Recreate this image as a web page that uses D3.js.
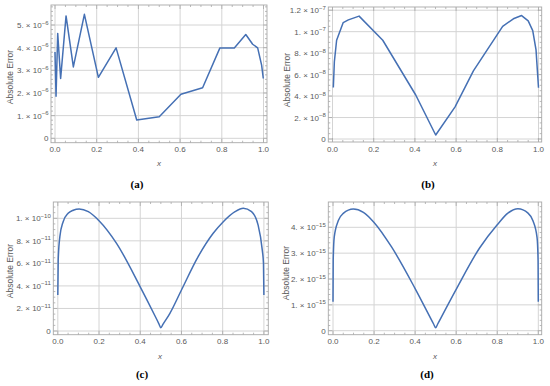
<!DOCTYPE html>
<html>
<head>
<meta charset="utf-8">
<script src="https://cdn.jsdelivr.net/npm/d3@7/dist/d3.min.js"></script>
<style>
  body { margin: 0; background: #ffffff; }
  svg { display: block; }
</style>
</head>
<body>
<svg id="chart" width="550" height="386"></svg>
<script>
// values
var xA = [0, 0.005, 0.013, 0.027, 0.053, 0.088, 0.141, 0.208, 0.293, 0.392, 0.50,
  0.604, 0.708, 0.791, 0.86, 0.915, 0.948, 0.972, 0.991, 0.999];
var errA = [3.81e-6, 1.86e-6, 4.63e-6, 2.64e-6, 5.40e-6, 3.15e-6, 5.47e-6, 2.69e-6, 3.99e-6, 0.81e-6, 0.95e-6,
  1.94e-6, 2.23e-6, 3.99e-6, 3.99e-6, 4.58e-6, 4.15e-6, 3.99e-6, 3.23e-6, 2.64e-6];

var xB = [0.004, 0.009, 0.02, 0.052, 0.077, 0.129, 0.244, 0.404, 0.501, 0.595, 0.684,
  0.826, 0.878, 0.918, 0.95, 0.972, 0.988, 1.0];
var errB = [4.8e-8, 7.2e-8, 9.2e-8, 10.85e-8, 11.1e-8, 11.45e-8, 9.2e-8, 4.1e-8, 0.37e-8, 3.0e-8, 6.35e-8,
  10.5e-8, 11.2e-8, 11.5e-8, 11.0e-8, 10.1e-8, 8.3e-8, 4.77e-8];

var xC = [0, 0.002, 0.01, 0.026, 0.05, 0.075, 0.104, 0.148, 0.2, 0.285, 0.398, 0.47, 0.49, 0.5,
  0.51, 0.544, 0.6, 0.681, 0.754, 0.803, 0.86, 0.9, 0.94, 0.972, 0.992, 0.998, 1.0];
var errC = [3.19e-11, 6.3e-11, 8.37e-11, 9.7e-11, 10.44e-11, 10.72e-11, 10.83e-11, 10.59e-11, 9.79e-11, 7.78e-11,
  3.99e-11, 1.4e-11, 0.66e-11, 0.29e-11, 0.58e-11, 1.57e-11, 3.64e-11, 6.6e-11, 8.67e-11, 9.7e-11, 10.59e-11,
  10.89e-11, 10.59e-11, 9.4e-11, 7.2e-11, 6.0e-11, 3.19e-11];

var xD = [0, 0.001, 0.006, 0.026, 0.05, 0.099, 0.148, 0.2, 0.286, 0.4, 0.49, 0.5, 0.51,
  0.6, 0.714, 0.8, 0.852, 0.901, 0.95, 0.974, 0.994, 0.999, 1.0];
var errD = [1.12e-15, 2.72e-15, 3.62e-15, 4.26e-15, 4.54e-15, 4.71e-15, 4.58e-15, 4.19e-15, 3.23e-15, 1.63e-15,
  0.26e-15, 0.11e-15, 0.26e-15, 1.6e-15, 3.2e-15, 4.1e-15, 4.55e-15, 4.72e-15, 4.55e-15, 4.25e-15,
  3.6e-15, 2.7e-15, 1.12e-15];

var xTicks = [0, 0.2, 0.4, 0.6, 0.8, 1.0];
var yTicksA = [0, 1e-6, 2e-6, 3e-6, 4e-6, 5e-6];
var yTicksB = [0, 2e-8, 4e-8, 6e-8, 8e-8, 1e-7, 1.2e-7];
var yTicksC = [0, 2e-11, 4e-11, 6e-11, 8e-11, 1e-10];
var yTicksD = [0, 1e-15, 2e-15, 3e-15, 4e-15];
var captions = ['(a)', '(b)', '(c)', '(d)'];

var svg = d3.select('#chart');
var lineColor = '#4570b4';
var frameColor = '#a8a8a8';
var gridColor = '#d4d4d4';
var labelColor = '#5a5a5a';

var panels = [
  { xs: xA, ys: errA, yTicks: yTicksA, yMinor: 0.2e-6, linear: true,
    frame: [51, 5, 267, 142.7], xPx: [55, 263.5], yPx: [138.3, 25.0], yDom: [0, 5e-6],
    cap: [137, 188], xLab: [159, 166], yLab: [10, 77] },
  { xs: xB, ys: errB, yTicks: yTicksB, yMinor: 0.5e-8, linear: true,
    frame: [328.3, 7, 541.7, 142], xPx: [332.5, 538.5], yPx: [139, 10.2], yDom: [0, 1.2e-7],
    cap: [428, 188], xLab: [435, 166], yLab: [287, 80] },
  { xs: xC, ys: errC, yTicks: yTicksC, yMinor: 0.5e-11, linear: false,
    frame: [53.3, 202, 268.3, 334.7], xPx: [57.8, 263.9], yPx: [331, 218.3], yDom: [0, 1e-10],
    cap: [142, 378], xLab: [160, 359], yLab: [10, 271] },
  { xs: xD, ys: errD, yTicks: yTicksD, yMinor: 0.2e-15, linear: false,
    frame: [328.3, 202, 541.7, 334.7], xPx: [333, 538.3], yPx: [330.7, 227.3], yDom: [0, 4e-15],
    cap: [427, 378], xLab: [435, 359], yLab: [286, 273] }
];

function tickParts(v) {
  if (v === 0) return null;
  var e = Math.floor(Math.log10(v) + 1e-9);
  var m = Math.round(v / Math.pow(10, e) * 10) / 10;
  var ms = (m % 1 === 0) ? m + '.' : String(m);
  return { mant: ms, exp: '\u2212' + Math.abs(e) };
}

panels.forEach(function(p, k) {
  var g = svg.append('g').attr('class', 'panel');
  var f = p.frame;
  var x = d3.scaleLinear().domain([0, 1]).range(p.xPx);
  var y = d3.scaleLinear().domain(p.yDom).range(p.yPx);

  // grid lines
  g.selectAll('.vgrid')
    .data(xTicks)
    .enter().append('line')
    .attr('x1', function(d) { return x(d); })
    .attr('x2', function(d) { return x(d); })
    .attr('y1', f[1])
    .attr('y2', f[3])
    .style('stroke', gridColor)
    .style('stroke-width', 1);

  g.selectAll('.hgrid')
    .data(p.yTicks)
    .enter().append('line')
    .attr('x1', f[0])
    .attr('x2', f[2])
    .attr('y1', function(d) { return y(d); })
    .attr('y2', function(d) { return y(d); })
    .style('stroke', gridColor)
    .style('stroke-width', 1);

  // minor and major ticks on all sides
  var xMinor = d3.range(0, 1.0001, 0.05);
  var yTop = y.invert(f[1]);
  var yMinorVals = d3.range(0, yTop, p.yMinor);
  xMinor.forEach(function(v) {
    var isMajor = Math.abs(v * 5 - Math.round(v * 5)) < 1e-6;
    var len = isMajor ? 4 : 2;
    g.append('line').attr('x1', x(v)).attr('x2', x(v)).attr('y1', f[3]).attr('y2', f[3] - len)
      .style('stroke', frameColor).style('stroke-width', 0.8);
    g.append('line').attr('x1', x(v)).attr('x2', x(v)).attr('y1', f[1]).attr('y2', f[1] + len)
      .style('stroke', frameColor).style('stroke-width', 0.8);
  });
  yMinorVals.forEach(function(v) {
    if (y(v) < f[1]) return;
    var isMajor = p.yTicks.some(function(t) { return Math.abs(t - v) < p.yMinor * 0.01; });
    var len = isMajor ? 4 : 2;
    g.append('line').attr('x1', f[0]).attr('x2', f[0] + len).attr('y1', y(v)).attr('y2', y(v))
      .style('stroke', frameColor).style('stroke-width', 0.8);
    g.append('line').attr('x1', f[2]).attr('x2', f[2] - len).attr('y1', y(v)).attr('y2', y(v))
      .style('stroke', frameColor).style('stroke-width', 0.8);
  });

  // frame
  g.append('rect')
    .attr('x', f[0])
    .attr('y', f[1])
    .attr('width', f[2] - f[0])
    .attr('height', f[3] - f[1])
    .style('fill', 'none')
    .style('stroke', frameColor)
    .style('stroke-width', 0.9);

  // data line
  var pts = p.xs.map(function(d, i) { return [d, p.ys[i]]; });
  var line = d3.line()
    .x(function(d) { return x(d[0]); })
    .y(function(d) { return y(d[1]); })
    .curve(p.linear ? d3.curveLinear : d3.curveMonotoneX);

  g.append('path')
    .datum(pts)
    .attr('d', line)
    .style('fill', 'none')
    .style('stroke', lineColor)
    .style('stroke-width', 1.5)
    .style('stroke-linejoin', 'round');

  // tick labels
  g.selectAll('.xlabel')
    .data(xTicks)
    .enter().append('text')
    .attr('x', function(d) { return x(d); })
    .attr('y', f[3] + 9.5)
    .style('text-anchor', 'middle')
    .style('font-family', 'Liberation Sans, sans-serif')
    .style('font-size', '8px')
    .style('fill', labelColor)
    .text(function(d) { return d.toFixed(1); });

  var ylabels = g.selectAll('.ylabel')
    .data(p.yTicks)
    .enter().append('text')
    .attr('x', f[0] - 2.5)
    .attr('y', function(d) { return y(d) + 3; })
    .style('text-anchor', 'end')
    .style('font-family', 'Liberation Sans, sans-serif')
    .style('font-size', '8px')
    .style('fill', labelColor);

  ylabels.each(function(d) {
    var t = d3.select(this);
    var parts = tickParts(d);
    if (!parts) {
      t.text('0');
      return;
    }
    t.append('tspan').text(parts.mant + ' \u00d7 10');
    t.append('tspan')
      .attr('dy', -3.5)
      .style('font-size', '6px')
      .text(parts.exp);
  });

  // axis titles
  g.append('text')
    .attr('x', p.xLab[0])
    .attr('y', p.xLab[1])
    .style('text-anchor', 'middle')
    .style('font-family', 'Liberation Sans, sans-serif')
    .style('font-style', 'italic')
    .style('font-size', '8px')
    .style('fill', labelColor)
    .text('x');

  g.append('text')
    .attr('transform', 'translate(' + (p.yLab[0] + 3) + ',' + p.yLab[1] + ') rotate(-90)')
    .style('text-anchor', 'middle')
    .style('font-family', 'Liberation Sans, sans-serif')
    .style('font-size', '8.5px')
    .style('fill', labelColor)
    .text('Absolute Error');

  // caption
  g.append('text')
    .attr('x', p.cap[0])
    .attr('y', p.cap[1])
    .style('text-anchor', 'middle')
    .style('font-family', 'Liberation Serif, serif')
    .style('font-weight', 'bold')
    .style('font-size', '11px')
    .style('fill', '#000000')
    .text(captions[k]);
});
</script>
</body>
</html>
